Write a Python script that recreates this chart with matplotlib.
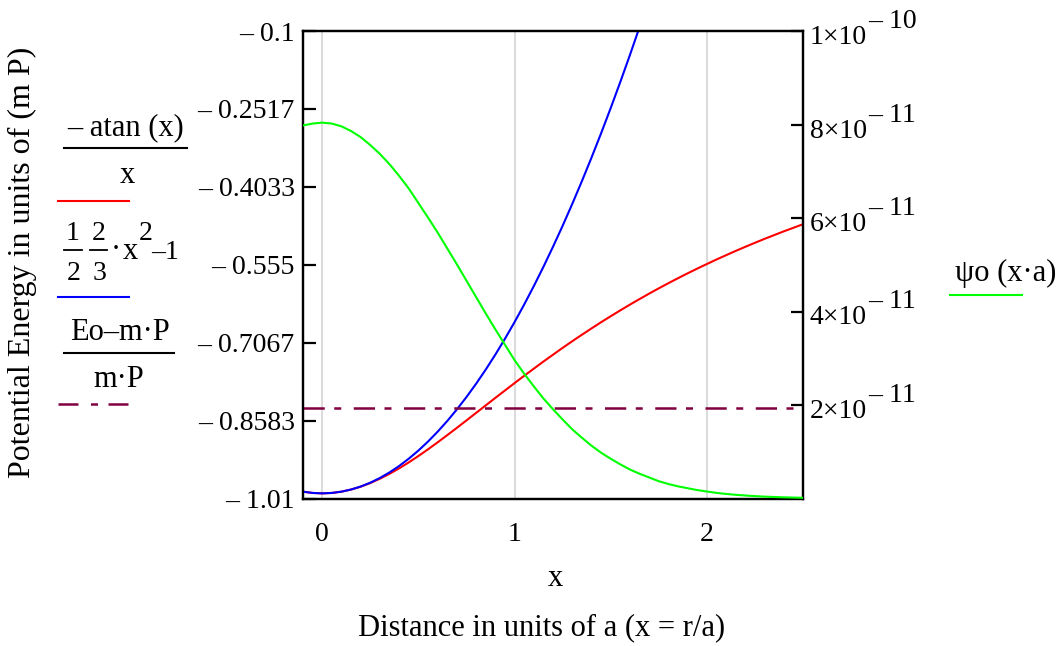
import matplotlib
matplotlib.use("Agg")
import matplotlib.pyplot as plt
from matplotlib.lines import Line2D
from matplotlib import transforms

plt.rcParams['font.family'] = ['Liberation Serif', 'DejaVu Serif']

# ---------------- data ----------------
x_vals = [-0.1, -0.05, 0.0, 0.05, 0.1, 0.15, 0.2, 0.25, 0.3, 0.35, 0.4, 0.45, 0.5,
          0.55, 0.6, 0.65, 0.7, 0.75, 0.8, 0.85, 0.9, 0.95, 1.0, 1.05, 1.1, 1.15,
          1.2, 1.25, 1.3, 1.35, 1.4, 1.45, 1.5, 1.55, 1.6, 1.65, 1.7, 1.75, 1.8,
          1.85, 1.9, 1.95, 2.0, 2.05, 2.1, 2.15, 2.2, 2.25, 2.3, 2.35, 2.4, 2.45, 2.5]
# red: -atan(x)/x
red_vals = [-0.9967, -0.9992, -1.0, -0.9992, -0.9967, -0.9926, -0.9870, -0.9799,
            -0.9715, -0.9619, -0.9513, -0.9397, -0.9273, -0.9143, -0.9007, -0.8867,
            -0.8725, -0.8580, -0.8434, -0.8288, -0.8142, -0.7998, -0.7854, -0.7712,
            -0.7573, -0.7435, -0.7301, -0.7168, -0.7039, -0.6913, -0.6790, -0.6669,
            -0.6552, -0.6438, -0.6326, -0.6218, -0.6112, -0.6009, -0.5909, -0.5812,
            -0.5717, -0.5625, -0.5536, -0.5448, -0.5364, -0.5281, -0.5201, -0.5123,
            -0.5046, -0.4973, -0.4900, -0.4831, -0.4761]
# blue: (1/2)(2/3)x^2 - 1 (leaves the plot above x ~ 1.65)
blue_vals = [-0.9967, -0.9992, -1.0, -0.9992, -0.9967, -0.9925, -0.9867, -0.9792,
             -0.9700, -0.9592, -0.9467, -0.9325, -0.9167, -0.8992, -0.8800, -0.8592,
             -0.8367, -0.8125, -0.7867, -0.7592, -0.7300, -0.6992, -0.6667, -0.6325,
             -0.5967, -0.5592, -0.5200, -0.4792, -0.4367, -0.3925, -0.3467, -0.2992,
             -0.2500, -0.1992, -0.1467, -0.0925, -0.0367]
# dash-dot: (Eo - m P)/(m P)
energy_level = -0.8333
# green: psi_o(x a) on the right axis (units of 1e-11)
green_vals_e11 = [7.98, 8.02, 8.04, 8.02, 7.96, 7.86, 7.73, 7.56, 7.37, 7.15, 6.90,
                  6.63, 6.32, 6.01, 5.69, 5.35, 5.01, 4.66, 4.31, 3.96, 3.62, 3.29,
                  2.96, 2.67, 2.40, 2.14, 1.91, 1.69, 1.48, 1.30, 1.13, 0.98, 0.85,
                  0.73, 0.62, 0.53, 0.45, 0.37, 0.31, 0.26, 0.22, 0.18, 0.15, 0.12,
                  0.098, 0.079, 0.064, 0.051, 0.040, 0.032, 0.025, 0.020, 0.015]

left_ticks = [-0.1, -0.2517, -0.4033, -0.555, -0.7067, -0.8583, -1.01]
left_labels = ['\u2013 0.1', '\u2013 0.2517', '\u2013 0.4033', '\u2013 0.555',
               '\u2013 0.7067', '\u2013 0.8583', '\u2013 1.01']
right_ticks = [2e-11, 4e-11, 6e-11, 8e-11, 1e-10]
right_mant = ['2\u00d710', '4\u00d710', '6\u00d710', '8\u00d710', '1\u00d710']
right_exp = ['\u2013 11', '\u2013 11', '\u2013 11', '\u2013 11', '\u2013 10']
x_ticks = [0, 1, 2]
x_labels = ['0', '1', '2']

# ---------------- figure ----------------
W, H = 1062, 646
fig = plt.figure(figsize=(W / 100, H / 100), dpi=100)

def fx(px):
    return px / W

def fy(py):
    return 1 - py / H

L, R, T, B = 303, 803, 31, 498.5
ax = fig.add_axes([fx(L), fy(B), (R - L) / W, (B - T) / H])
ax2 = ax.twinx()

FS = 20
FS2 = 22
RED, BLUE, GREEN, MAROON = '#ff0000', '#0000ff', '#00ff00', '#800040'
dashdot = (0, (8.5, 3.8, 2.8, 5.0))

ax.set_xlim(-0.1, 2.5)
ax.set_ylim(-1.01, -0.1)
ax2.set_ylim(0, 1e-10)

for xv in x_ticks:
    ax.axvline(xv, color='#d4d4d4', lw=1.2, zorder=0)

ax.plot(x_vals, red_vals, color=RED, lw=1.5, zorder=3)
ax.plot(x_vals[:len(blue_vals)], blue_vals, color=BLUE, lw=1.5, zorder=3)
ax.axhline(energy_level, color=MAROON, lw=1.8, linestyle=dashdot, zorder=3)
ax2.plot(x_vals, [g * 1e-11 for g in green_vals_e11], color=GREEN, lw=1.5, zorder=3)

for a in (ax, ax2):
    for s in a.spines.values():
        s.set_linewidth(1.6)
        s.set_color('black')

ax.set_yticks(left_ticks)
ax.set_yticklabels(left_labels, fontsize=FS)
ax.tick_params(axis='y', direction='in', length=9, width=1.6, pad=6)
ax.set_xticks(x_ticks)
ax.set_xticklabels(x_labels, fontsize=FS)
ax.tick_params(axis='x', length=0, pad=17)

ax2.set_yticks(right_ticks)
ax2.set_yticklabels([''] * len(right_ticks))
ax2.tick_params(axis='y', direction='in', length=9, width=1.6)

blend = transforms.blended_transform_factory(ax2.transAxes, ax2.transData)
t_main = transforms.offset_copy(blend, fig=fig, x=0, y=-13, units='dots')
t_sup = transforms.offset_copy(blend, fig=fig, x=0, y=3, units='dots')
for v, m, e in zip(right_ticks, right_mant, right_exp):
    ax2.text((810 - L) / (R - L), v, m, transform=t_main, fontsize=FS,
             ha='left', va='baseline', clip_on=False)
    ax2.text((868 - L) / (R - L), v, e, transform=t_sup, fontsize=FS,
             ha='left', va='baseline', clip_on=False)

# axis titles
fig.text(fx(22), fy(262), 'Potential Energy in units of (m P)', rotation=90,
         fontsize=23, ha='center', va='center')
fig.text(fx(555), fy(578), 'x', fontsize=FS2, ha='center', va='center')
fig.text(fx(542), fy(628), 'Distance in units of a (x = r/a)', fontsize=FS2,
         ha='center', va='center')

# ---------------- legends (Mathcad style) ----------------
def hline(x0, x1, y, **kw):
    fig.add_artist(Line2D([fx(x0), fx(x1)], [fy(y), fy(y)],
                          transform=fig.transFigure, **kw))

def txt(x, y, s, ha='center', fs=FS2):
    fig.text(fx(x), fy(y), s, fontsize=fs, ha=ha, va='baseline')

# -atan(x)/x
txt(126, 135, '\u2013 atan (x)')
hline(64, 187, 148, color='black', lw=1.5)
txt(127, 183, 'x')
hline(58, 129, 201, color=RED, lw=1.5)

# 1/2 * 2/3 * x^2 - 1
txt(73, 240, '1', fs=FS)
txt(99, 240, '2', fs=FS)
hline(64, 82, 250, color='black', lw=1.3)
hline(90, 107, 250, color='black', lw=1.3)
txt(74, 280, '2', fs=FS)
txt(99, 280, '3', fs=FS)
txt(116, 258, '\u00b7')
txt(123, 259, 'x', ha='left')
txt(139, 240, '2', ha='left', fs=FS)
txt(151, 259, '\u20131', ha='left', fs=FS)
hline(58, 129, 297, color=BLUE, lw=1.5)

# (Eo - m P)/(m P)
txt(120, 340, 'Eo\u2013m\u00b7P')
hline(64, 174, 353, color='black', lw=1.5)
txt(119, 387, 'm\u00b7P')
hline(58, 129, 404, color=MAROON, lw=1.8, linestyle=(0, (8.0, 5.0, 2.8, 4.2)))

# psi_o(x a)
txt(1006, 281, '\u03c8o (x\u00b7a)')
hline(950, 1022, 295, color=GREEN, lw=1.5)

fig.savefig('out.png', dpi=100)
